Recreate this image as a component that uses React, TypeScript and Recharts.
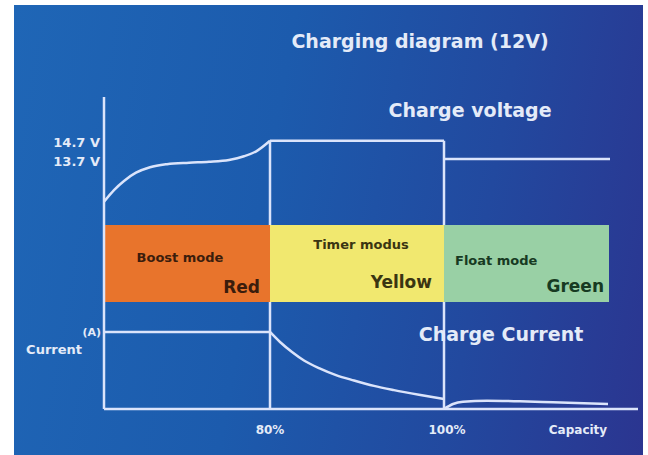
import React from 'react';
import { ComposedChart, Line, XAxis, YAxis, ReferenceLine, ReferenceArea } from 'recharts';

// ---------- data ----------
// x axis: charging progress in arbitrary time units (0 = start)
const xTicks = [166, 340, 474];
const xTickLabels = ['80%', '100%', 'Capacity'];

const voltTicks = [13.7, 14.7];
const voltTickLabels = ['13.7 V', '14.7 V'];

const phaseStart = [0, 166, 340];
const phaseEnd = [166, 340, 505];
const phaseModes = ['Boost mode', 'Timer modus', 'Float mode'];
const phaseColorNames = ['Red', 'Yellow', 'Green'];

// charge voltage (V)
const boostVoltT = [0, 10, 20, 32, 46, 63, 85, 105, 125, 140, 153, 166];
const boostVoltV = [11.36, 12.0, 12.5, 12.95, 13.25, 13.42, 13.5, 13.55, 13.65, 13.85, 14.15, 14.7];
const timerVoltT = [166, 340];
const timerVoltV = [14.7, 14.7];
const floatVoltT = [340, 506];
const floatVoltV = [13.7, 13.7];

// charge current (relative to nominal current)
const boostCurT = [0, 166];
const boostCurA = [1, 1];
const timerCurT = [166, 176, 188, 200, 215, 232, 250, 270, 290, 315, 340];
const timerCurA = [1.0, 0.87, 0.74, 0.63, 0.53, 0.44, 0.37, 0.3, 0.245, 0.185, 0.13];
const floatCurT = [340, 349, 359, 383, 416, 449, 504];
const floatCurA = [0.0, 0.065, 0.095, 0.108, 0.1, 0.087, 0.065];

const nominalCurrent = 1;
const topVoltage = 14.7;

// ---------- styles / layout ----------
const FONT = '"DejaVu Sans", Verdana, sans-serif';
const LINE = '#dbe4fb';
const TEXT = '#e4ebf8';
const phaseFills = ['#e8742c', '#f1e86f', '#99d0a5'];
const phaseInk = ['#3b1d0c', '#3a3512', '#173a22'];
const bandLow = 1.39;
const bandHigh = 2.39;
const bandLayout = [
  { modeX: 76, modeY: 33, anchor: 'middle', colorY: 62, colorInset: 10 },
  { modeX: 91, modeY: 20, anchor: 'middle', colorY: 57, colorInset: 12 },
  { modeX: 11, modeY: 36, anchor: 'start', colorY: 61, colorInset: 5 },
];

const zip = (t: number[], vals: number[], key: string) =>
  t.map((x, i) => ({ t: x, [key]: vals[i] }));

const boostVolt = zip(boostVoltT, boostVoltV, 'v');
const timerVolt = zip(timerVoltT, timerVoltV, 'v');
const floatVolt = zip(floatVoltT, floatVoltV, 'v');
const boostCur = zip(boostCurT, boostCurA, 'a');
const timerCur = zip(timerCurT, timerCurA, 'a');
const floatCur = zip(floatCurT, floatCurA, 'a');

const BandLabel = (props: any) => {
  const { viewBox, i } = props;
  if (!viewBox) return null;
  const { x, y, width } = viewBox;
  const L = bandLayout[i];
  return (
    <g fontFamily={FONT} fontWeight="bold" fill={phaseInk[i]}>
      <text x={x + L.modeX} y={y + L.modeY} textAnchor={L.anchor} dominantBaseline="central" fontSize={13}>
        {phaseModes[i]}
      </text>
      <text x={x + width - L.colorInset} y={y + L.colorY} textAnchor="end" dominantBaseline="central" fontSize={17}>
        {phaseColorNames[i]}
      </text>
    </g>
  );
};

const CurrentAxisLabel = (props: any) => {
  const { viewBox } = props;
  if (!viewBox) return null;
  const { x, y } = viewBox;
  return (
    <g fontFamily={FONT} fontWeight="bold" fill={TEXT}>
      <text x={x - 3} y={y + 1} textAnchor="end" dominantBaseline="central" fontSize={11}>(A)</text>
      <text x={x - 22} y={y + 18} textAnchor="end" dominantBaseline="central" fontSize={13}>Current</text>
    </g>
  );
};

const VoltTick = (props: any) => {
  const { x, y, payload } = props;
  const idx = voltTicks.indexOf(payload.value);
  return (
    <text x={x} y={y + 2} textAnchor="end" dominantBaseline="central" fontFamily={FONT} fontWeight="bold" fontSize={13} fill={TEXT}>
      {voltTickLabels[idx]}
    </text>
  );
};

const XTick = (props: any) => {
  const { x, y, payload } = props;
  const idx = xTicks.indexOf(payload.value);
  return (
    <text x={x + (idx === 1 ? 3 : 0)} y={y} textAnchor="middle" dominantBaseline="central" fontFamily={FONT} fontWeight="bold" fontSize={12} fill={TEXT}>
      {xTickLabels[idx]}
    </text>
  );
};

export default function App() {
  return (
    <div style={{ position: 'absolute', left: 0, top: 0, width: 648, height: 455, background: '#ffffff', overflow: 'hidden' }}>
      <div
        style={{
          position: 'absolute', left: 14, top: 5, width: 629, height: 450,
          background: 'linear-gradient(100deg, #1f66b6 0%, #1c5bad 40%, #22499f 72%, #2b3590 100%)',
        }}
      />
      <div style={{ position: 'absolute', left: 0, top: 0 }}>
        <ComposedChart width={648} height={455} margin={{ top: 97, right: 10, bottom: 0, left: 0 }}>
          <XAxis
            type="number" dataKey="t" domain={[0, 534]} ticks={xTicks} allowDataOverflow
            axisLine={{ stroke: LINE, strokeWidth: 2.5 }} tickLine={false} tickSize={0} tickMargin={21}
            height={46} tick={<XTick />} interval={0}
          />
          <YAxis
            yAxisId="v" type="number" domain={[0, 17.1]} ticks={voltTicks} allowDataOverflow
            axisLine={{ stroke: LINE, strokeWidth: 2.5 }} tickLine={false} tickSize={0} tickMargin={4}
            width={104} tick={<VoltTick />} interval={0}
          />
          <YAxis yAxisId="a" type="number" domain={[0, 4.05]} hide width={0} orientation="right" allowDataOverflow />

          {phaseEnd.slice(0, 2).map((t, i) => (
            <ReferenceLine
              key={'vl' + i} yAxisId="v"
              segment={[{ x: t, y: topVoltage }, { x: t, y: 0 }]}
              stroke={LINE} strokeWidth={2.5}
            />
          ))}

          {phaseStart.map((s, i) => (
            <ReferenceArea
              key={'band' + i} yAxisId="a"
              x1={s} x2={phaseEnd[i]} y1={bandLow} y2={bandHigh}
              fill={phaseFills[i]} fillOpacity={1} stroke="none"
              label={<BandLabel i={i} />}
              zIndex={450}
            />
          ))}

          <ReferenceLine yAxisId="a" y={nominalCurrent} stroke="none" label={<CurrentAxisLabel />} />

          <Line yAxisId="v" data={boostVolt} dataKey="v" type="monotone" stroke={LINE} strokeWidth={2.5} dot={false} isAnimationActive={false} />
          <Line yAxisId="v" data={timerVolt} dataKey="v" type="linear" stroke={LINE} strokeWidth={2.5} dot={false} isAnimationActive={false} />
          <Line yAxisId="v" data={floatVolt} dataKey="v" type="linear" stroke={LINE} strokeWidth={2.5} dot={false} isAnimationActive={false} />
          <Line yAxisId="a" data={boostCur} dataKey="a" type="linear" stroke={LINE} strokeWidth={2.5} dot={false} isAnimationActive={false} />
          <Line yAxisId="a" data={timerCur} dataKey="a" type="monotone" stroke={LINE} strokeWidth={2.5} dot={false} isAnimationActive={false} />
          <Line yAxisId="a" data={floatCur} dataKey="a" type="monotone" stroke={LINE} strokeWidth={2.5} dot={false} isAnimationActive={false} />
        </ComposedChart>
      </div>
      <svg width={648} height={455} style={{ position: 'absolute', left: 0, top: 0, pointerEvents: 'none' }}>
        <g fontFamily={FONT} fontWeight="bold" fill={TEXT} fontSize={19} textAnchor="middle" dominantBaseline="central">
          <text x={420} y={41}>Charging diagram (12V)</text>
          <text x={470} y={110}>Charge voltage</text>
          <text x={501} y={334}>Charge Current</text>
        </g>
      </svg>
    </div>
  );
}
